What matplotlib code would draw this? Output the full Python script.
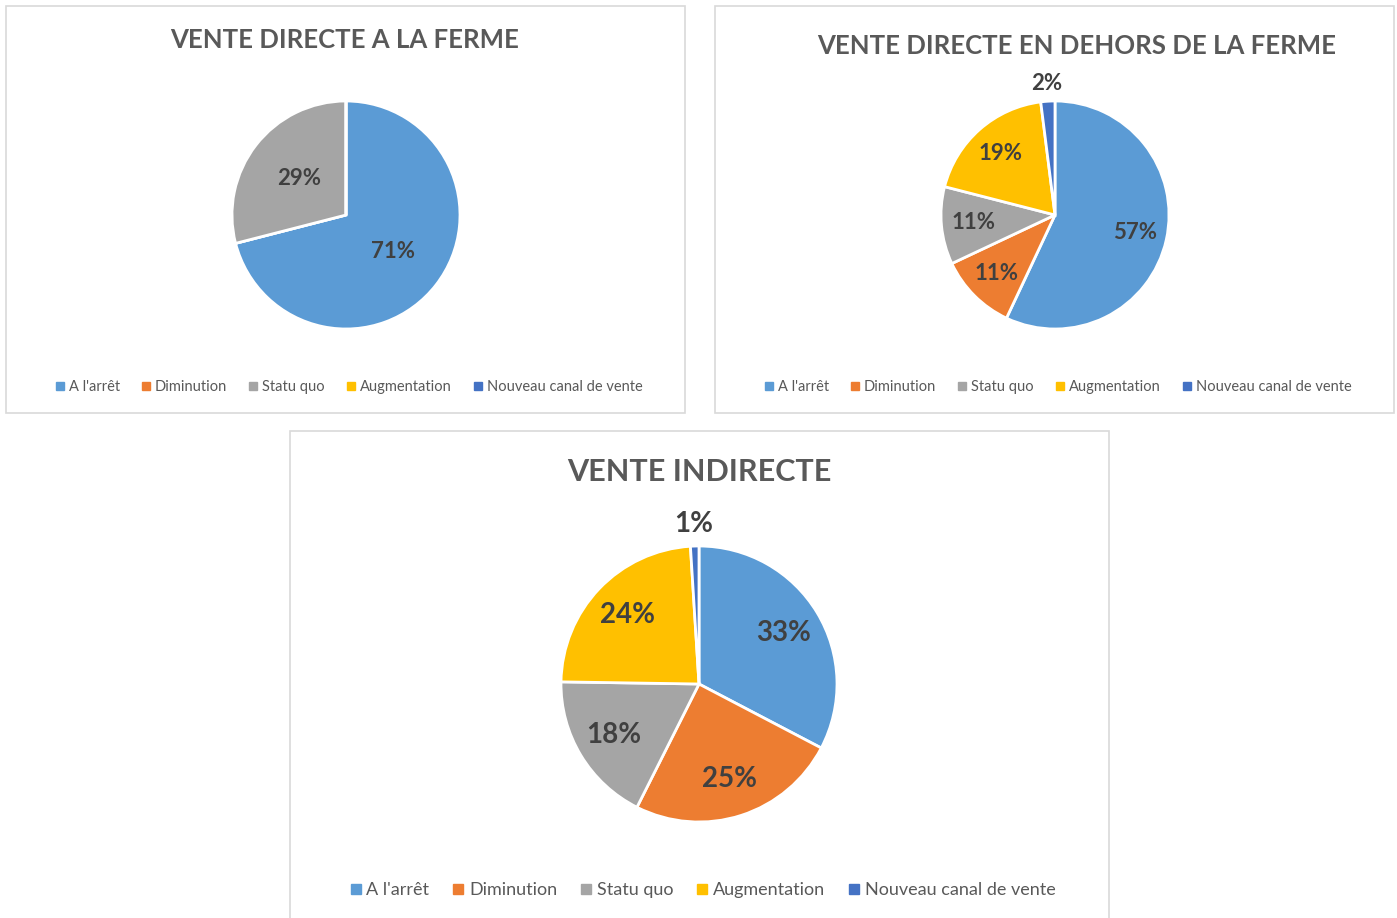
import numpy as np
import matplotlib.pyplot as plt
from matplotlib.patches import Rectangle
from matplotlib.lines import Line2D

plt.rcParams['font.family'] = ['Lato', 'DejaVu Sans']

categories = ["A l'arrêt", "Diminution", "Statu quo", "Augmentation", "Nouveau canal de vente"]
colors = ["#5B9BD5", "#ED7D31", "#A5A5A5", "#FFC000", "#4472C4"]

titles = ["VENTE DIRECTE A LA FERME",
          "VENTE DIRECTE EN DEHORS DE LA FERME",
          "VENTE INDIRECTE"]
ferme = [71, 0, 29, 0, 0]
hors_ferme = [57, 11, 11, 19, 2]
indirecte = [33, 25, 18, 24, 1]

W, H = 1397, 918
fig = plt.figure(figsize=(W / 100, H / 100), dpi=100)

# panel frames (pixels: x0, y0, x1, y1)
frames = [(6, 6, 685, 413), (715, 6, 1394, 413), (290, 431, 1109, 940)]
for x0, y0, x1, y1 in frames:
    fig.patches.append(Rectangle((x0 / W, 1 - y1 / H), (x1 - x0) / W, (y1 - y0) / H,
                                 transform=fig.transFigure, fill=False,
                                 edgecolor="#D9D9D9", linewidth=1.2))

# pie center / radius in px, title and legend positions, font sizes, label distance
panels = [
    dict(vals=ferme, cx=346, cy=215, r=114, tx=345, ty=40, tfs=18.5, lx=349, ly=387,
         lfs=10.5, cs=1.5, pfs=16, pd=0.52),
    dict(vals=hors_ferme, cx=1055, cy=215, r=114, tx=1077, ty=46, tfs=18.5, lx=1058, ly=387,
         lfs=10.5, cs=1.5, pfs=16, pd=0.72),
    dict(vals=indirecte, cx=699, cy=684, r=138, tx=699, ty=472, tfs=22, lx=703, ly=890,
         lfs=13, cs=1.3, pfs=20, pd=0.72),
]

for p, title in zip(panels, titles):
    R = p['r'] * 1.35
    ax = fig.add_axes([(p['cx'] - R) / W, 1 - (p['cy'] + R) / H, 2 * R / W, 2 * R / H])
    vals = p['vals']
    wedges, _ = ax.pie(vals, colors=colors, startangle=90, counterclock=False,
                       wedgeprops=dict(edgecolor='white', linewidth=2))
    ax.set_xlim(-1.35, 1.35)
    ax.set_ylim(-1.35, 1.35)
    ax.axis('off')
    total = sum(vals)
    for w, v in zip(wedges, vals):
        if v == 0:
            continue
        ang = np.deg2rad((w.theta1 + w.theta2) / 2)
        d = p['pd'] if v / total > 0.03 else 1.16
        ax.text(d * np.cos(ang), d * np.sin(ang), f"{v}%", ha='center', va='center',
                fontsize=p['pfs'], fontweight='bold', color='#404040')

    fig.text(p['tx'] / W, 1 - p['ty'] / H, title, ha='center', va='center',
             fontsize=p['tfs'], fontweight='bold', color='#595959')

    handles = [Line2D([], [], marker='s', linestyle='', color=c, markersize=p['lfs'] * 0.5)
               for c in colors]
    fig.legend(handles, categories, loc='center', ncol=5,
               bbox_to_anchor=(p['lx'] / W, 1 - p['ly'] / H), frameon=False,
               fontsize=p['lfs'], labelcolor='#595959', handlelength=0.6,
               handletextpad=0.3, columnspacing=p['cs'], borderpad=0)

fig.savefig("out.png", dpi=100, facecolor='white')
